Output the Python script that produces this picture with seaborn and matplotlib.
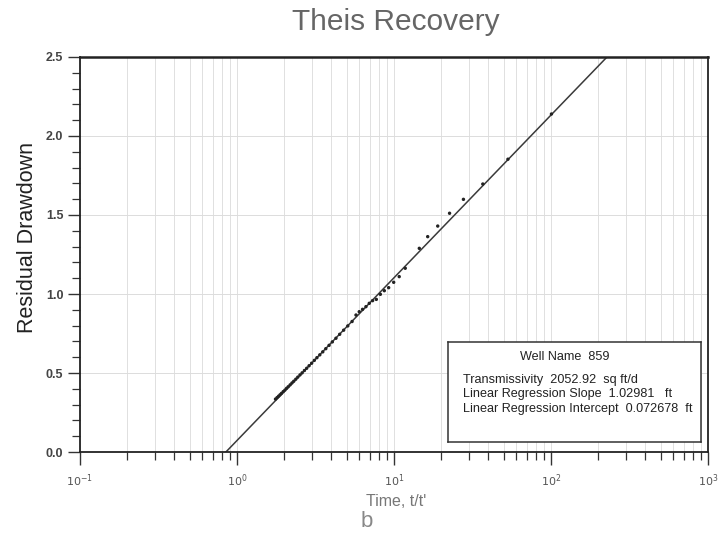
import numpy as np
import pandas as pd
import matplotlib
matplotlib.use("Agg")
import matplotlib.pyplot as plt
import matplotlib.ticker as mticker
import seaborn as sns

# Recovery observations: time ratio t/t' and residual drawdown (ft)
time_ratio = [1.76, 1.80, 1.84, 1.88, 1.92, 1.97, 2.02, 2.07, 2.12, 2.18,
              2.24, 2.30, 2.37, 2.44, 2.52, 2.60, 2.69, 2.78, 2.88, 2.99,
              3.11, 3.23, 3.37, 3.52, 3.68, 3.86, 4.05, 4.27, 4.51, 4.78,
              5.08, 5.41, 5.73, 6.01, 6.31, 6.63, 6.96, 7.31, 7.72, 8.19,
              8.68, 9.25, 9.96, 10.8, 11.8, 14.5, 16.4, 19.0, 22.6, 27.7,
              36.8, 53.2, 100.7]
residual_drawdown = [0.335, 0.344, 0.353, 0.362, 0.371, 0.382, 0.392, 0.403, 0.413, 0.425,
                     0.437, 0.448, 0.461, 0.474, 0.488, 0.501, 0.516, 0.530, 0.546, 0.562,
                     0.580, 0.597, 0.615, 0.634, 0.654, 0.675, 0.697, 0.720, 0.745, 0.771,
                     0.798, 0.826, 0.867, 0.888, 0.903, 0.920, 0.941, 0.958, 0.966, 0.998,
                     1.021, 1.040, 1.074, 1.110, 1.163, 1.289, 1.363, 1.430, 1.511, 1.599,
                     1.696, 1.853, 2.139]

well_name = "859"
transmissivity = 2052.92
slope = 1.02981
intercept = 0.072678

x_ticks = [0.1, 1, 10, 100, 1000]
x_tick_labels = ["$10^{-1}$", "$10^{0}$", "$10^{1}$", "$10^{2}$", "$10^{3}$"]
y_ticks = [0.0, 0.5, 1.0, 1.5, 2.0, 2.5]

sns.set_style("white")
plt.rcParams["font.family"] = ["Liberation Sans", "DejaVu Sans"]

fig = plt.figure(figsize=(7.25, 5.35), dpi=100)
ax = fig.add_axes([0.1103, 0.1551, 0.8662, 0.7384])

obs = pd.DataFrame({"t": time_ratio, "s": residual_drawdown})

# Fitted straight line on semi-log axes: s = slope * log10(t/t') + intercept
fit_t = np.array([0.1, 1000.0])
fit = pd.DataFrame({"t": fit_t, "s": slope * np.log10(fit_t) + intercept})

ax.set_xscale("log")
ax.set_xlim(0.1, 1000)
ax.set_ylim(0, 2.5)

# light grid
ax.xaxis.set_minor_locator(mticker.LogLocator(base=10, subs=np.arange(2, 10)))
ax.yaxis.set_minor_locator(mticker.MultipleLocator(0.1))
ax.grid(True, which="both", axis="x", color="#e0e0e0", lw=0.7)
ax.grid(True, which="major", axis="y", color="#dcdcdc", lw=0.7)
ax.set_axisbelow(True)

sns.lineplot(data=fit, x="t", y="s", ax=ax, color="#3a3a3a", lw=1.1, legend=False)
sns.scatterplot(data=obs, x="t", y="s", ax=ax, color="#222222", s=6,
                edgecolor="none", legend=False, zorder=3)

ax.set_xticks(x_ticks)
ax.set_xticklabels(x_tick_labels)
ax.set_yticks(y_ticks)
ax.set_yticklabels([f"{v:.1f}" for v in y_ticks])
ax.xaxis.set_minor_formatter(mticker.NullFormatter())

ax.tick_params(axis="both", which="major", direction="out", length=9, width=1.0,
               color="#333333", bottom=True, left=True)
ax.tick_params(axis="both", which="minor", direction="out", length=5.5, width=0.9,
               color="#333333", bottom=True, left=True)
ax.tick_params(axis="x", which="major", labelsize=8, labelcolor="#555555", pad=6)
ax.tick_params(axis="y", which="major", labelsize=9, labelcolor="#444444", pad=3)
for lab in ax.get_yticklabels():
    lab.set_fontweight("bold")

for side in ["left", "right", "bottom", "top"]:
    ax.spines[side].set_visible(True)
    ax.spines[side].set_color("#222222")
    ax.spines[side].set_linewidth(1.3)
ax.spines["top"].set_linewidth(1.8)

ax.set_xlabel("")
ax.set_ylabel("")

fig.text(0.0386, 0.557, "Residual Drawdown", rotation=90, ha="center", va="center",
         fontsize=15.5, color="#222222")
fig.text(0.546, 0.959, "Theis Recovery", ha="center", va="center",
         fontsize=21.5, color="#666666")
fig.text(0.546, 0.0635, "Time, t/t'", ha="center", va="center",
         fontsize=11.5, color="#777777")
fig.text(0.506, 0.026, "b", ha="center", va="center", fontsize=16, color="#888888")

# info box with the regression results
box_ax = fig.add_axes([448 / 725, 1 - 442 / 535, (701 - 448) / 725, 100 / 535])
box_ax.set_xticks([])
box_ax.set_yticks([])
box_ax.set_facecolor("white")
for sp in box_ax.spines.values():
    sp.set_color("#333333")
    sp.set_linewidth(1.1)
txt = dict(fontsize=9.1, color="#222222", transform=box_ax.transAxes, va="center")
box_ax.text(0.46, 0.85, f"Well Name  {well_name}", ha="center", **txt)
box_ax.text(0.06, 0.62, f"Transmissivity  {transmissivity:.2f}  sq ft/d", ha="left", **txt)
box_ax.text(0.06, 0.48, f"Linear Regression Slope  {slope:.5f}   ft", ha="left", **txt)
box_ax.text(0.06, 0.33, f"Linear Regression Intercept  {intercept:.6f}  ft", ha="left", **txt)

fig.savefig("out.png", dpi=100, facecolor="white")
